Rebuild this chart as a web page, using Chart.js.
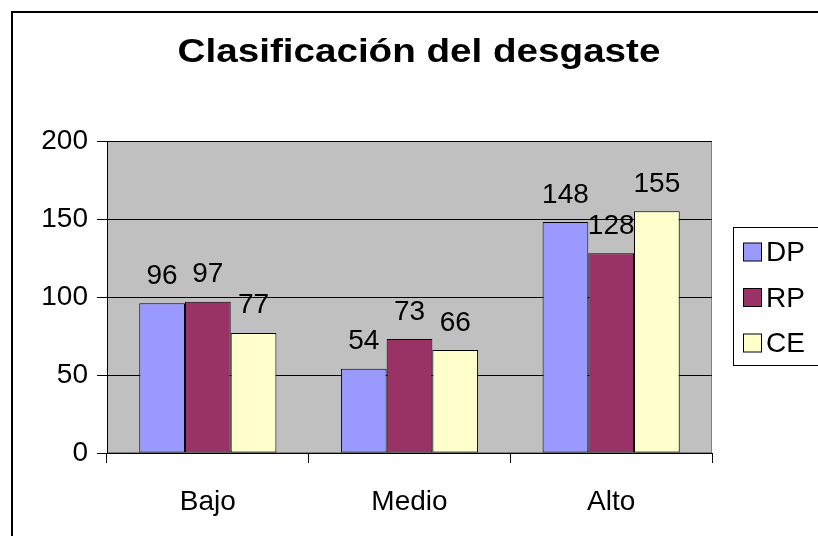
<!DOCTYPE html>
<html>
<head>
<meta charset="utf-8">
<script src="https://cdn.jsdelivr.net/npm/chart.js@4/dist/chart.umd.min.js"></script>
<style>
html,body{margin:0;padding:0;background:#fff;}
canvas{display:block;}
</style>
</head>
<body>
<canvas id="c" width="818" height="536"></canvas>
<script>
const chartTitle = "Clasificación del desgaste";
const categories = ["Bajo", "Medio", "Alto"];
const seriesNames = ["DP", "RP", "CE"];
const dpValues = [96, 54, 148];
const rpValues = [97, 73, 128];
const ceValues = [77, 66, 155];
const yTicks = [0, 50, 100, 150, 200];
const seriesColors = ["#9999FF", "#993366", "#FFFFCC"];

const FONT = '"Liberation Sans", Arial, sans-serif';

const decor = {
  id: 'decor',
  beforeDraw(chart) {
    const {ctx, chartArea: a} = chart;
    ctx.save();
    ctx.fillStyle = '#fff';
    ctx.fillRect(0, 0, chart.width, chart.height);
    ctx.fillStyle = '#C0C0C0';
    ctx.fillRect(a.left, a.top, a.right - a.left, a.bottom - a.top);
    ctx.strokeStyle = '#808080';
    ctx.lineWidth = 1;
    ctx.strokeRect(a.left + 0.5, a.top + 0.5, a.right - a.left - 1, a.bottom - a.top - 1);
    ctx.strokeStyle = '#000';
    ctx.lineWidth = 2;
    ctx.strokeRect(12, 12, chart.width + 50, chart.height + 50);
    ctx.restore();
  },
  afterDatasetsDraw(chart) {
    const ctx = chart.ctx;
    ctx.save();
    ctx.font = '28px ' + FONT;
    ctx.fillStyle = '#000';
    ctx.textAlign = 'center';
    ctx.textBaseline = 'alphabetic';
    chart.data.datasets.forEach((ds, i) => {
      const meta = chart.getDatasetMeta(i);
      meta.data.forEach((bar, j) => {
        ctx.fillText(String(ds.data[j]), bar.x, bar.y - 19.5);
      });
    });
    ctx.restore();
  },
  afterDraw(chart) {
    const ctx = chart.ctx;
    ctx.save();
    ctx.font = 'bold 33px ' + FONT;
    ctx.fillStyle = '#000';
    ctx.textAlign = 'center';
    ctx.textBaseline = 'alphabetic';
    ctx.translate(419, 62);
    ctx.scale(1.17, 1);
    ctx.fillText(chartTitle, 0, 0);
    ctx.restore();
    ctx.save();
    ctx.strokeStyle = '#000';
    ctx.lineWidth = 1;
    ctx.fillStyle = '#fff';
    ctx.fillRect(733.5, 227.5, 200, 138);
    ctx.strokeRect(733.5, 227.5, 200, 138);
    ctx.font = '28px ' + FONT;
    ctx.textAlign = 'left';
    ctx.textBaseline = 'middle';
    chart.data.datasets.forEach((ds, i) => {
      const cy = 252.5 + i * 45.5;
      ctx.fillStyle = ds.backgroundColor;
      ctx.fillRect(743.5, cy - 9.5, 18, 18);
      ctx.strokeRect(743.5, cy - 9.5, 18, 18);
      ctx.fillStyle = '#000';
      ctx.fillText(ds.label, 766, cy + 1);
    });
    ctx.restore();
  }
};

const valueSets = [dpValues, rpValues, ceValues];

new Chart(document.getElementById('c'), {
  type: 'bar',
  data: {
    labels: categories,
    datasets: seriesNames.map((name, i) => ({
      label: name,
      data: valueSets[i],
      backgroundColor: seriesColors[i],
      borderColor: '#000',
      borderWidth: 1,
      borderSkipped: false,
      categoryPercentage: 0.68,
      barPercentage: 1.0
    }))
  },
  options: {
    responsive: false,
    animation: false,
    devicePixelRatio: 1,
    layout: { padding: { left: 0, right: 106, top: 141, bottom: 0 } },
    plugins: {
      legend: { display: false },
      title: { display: false },
      tooltip: { enabled: false }
    },
    scales: {
      x: {
        afterFit(s) { s.height = 83; },
        grid: {
          offset: true,
          drawOnChartArea: false,
          drawTicks: true,
          tickLength: 10,
          color: '#000',
          lineWidth: 1
        },
        border: { display: true, color: '#000', width: 1 },
        ticks: {
          color: '#000',
          padding: 22,
          font: { family: FONT, size: 28 }
        }
      },
      y: {
        min: 0,
        max: 200,
        afterFit(s) { s.width = 107; },
        afterBuildTicks(s) { s.ticks = yTicks.map(v => ({ value: v })); },
        grid: {
          color: '#000',
          lineWidth: 1,
          drawTicks: true,
          tickLength: 10
        },
        border: { display: true, color: '#000', width: 1 },
        ticks: {
          color: '#000',
          padding: 9,
          font: { family: FONT, size: 28 }
        }
      }
    }
  },
  plugins: [decor]
});
</script>
</body>
</html>
